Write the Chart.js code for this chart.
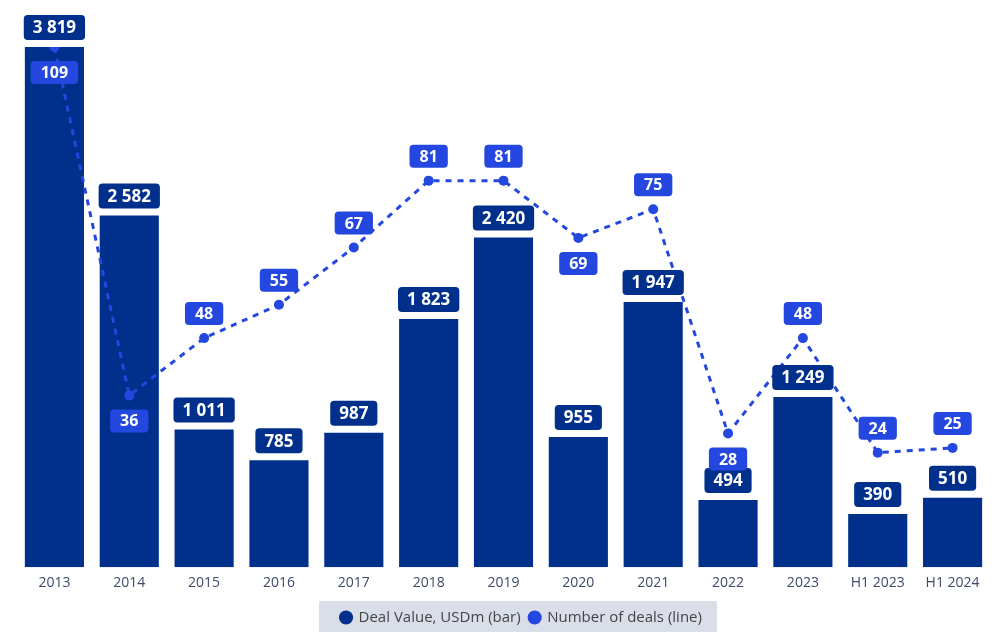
<!DOCTYPE html>
<html>
<head>
<meta charset="utf-8">
<script src="https://cdn.jsdelivr.net/npm/chart.js@4.4.1/dist/chart.umd.min.js"></script>
<style>
  html, body { margin: 0; padding: 0; background: #ffffff; }
  #wrap { width: 1007px; height: 632px; position: relative; }
</style>
</head>
<body>
<div id="wrap"><canvas id="c" width="1007" height="632"></canvas></div>
<script>
const categories = ['2013', '2014', '2015', '2016', '2017', '2018', '2019', '2020', '2021', '2022', '2023', 'H1 2023', 'H1 2024'];
const dealValue = [3819, 2582, 1011, 785, 987, 1823, 2420, 955, 1947, 494, 1249, 390, 510];
const dealCount = [109, 36, 48, 55, 67, 81, 81, 69, 75, 28, 48, 24, 25];
const countLabelSide = ['below', 'below', 'above', 'above', 'above', 'above', 'above', 'below', 'above', 'below', 'above', 'above', 'above'];

const BAR_COLOR = '#00308C';
const LINE_COLOR = '#2447DF';
const FONT = "'Segoe UI', 'Open Sans', 'Noto Sans', sans-serif";
const LEGEND_SHIFT_X = 18;
const LEGEND_SHIFT_Y = 3;

function fmt(v) {
  return String(v).replace(/\B(?=(\d{3})+(?!\d))/g, ' ');
}

function roundRect(ctx, x, y, w, h, r) {
  ctx.beginPath();
  ctx.moveTo(x + r, y);
  ctx.lineTo(x + w - r, y);
  ctx.quadraticCurveTo(x + w, y, x + w, y + r);
  ctx.lineTo(x + w, y + h - r);
  ctx.quadraticCurveTo(x + w, y + h, x + w - r, y + h);
  ctx.lineTo(x + r, y + h);
  ctx.quadraticCurveTo(x, y + h, x, y + h - r);
  ctx.lineTo(x, y + r);
  ctx.quadraticCurveTo(x, y, x + r, y);
  ctx.closePath();
}

const labelPlugin = {
  id: 'valueLabels',
  afterDatasetsDraw(chart) {
    const ctx = chart.ctx;
    ctx.save();
    ctx.font = "bold 17px " + FONT;
    ctx.textAlign = 'center';
    ctx.textBaseline = 'middle';
    const barMeta = chart.getDatasetMeta(0);
    barMeta.data.forEach((el, i) => {
      const txt = fmt(dealValue[i]);
      const tw = ctx.measureText(txt).width;
      const w = tw + 18, h = 25;
      const cx = el.x;
      const bottom = el.y - 7;
      ctx.fillStyle = BAR_COLOR;
      roundRect(ctx, cx - w / 2, bottom - h, w, h, 4);
      ctx.fill();
      ctx.fillStyle = '#ffffff';
      ctx.fillText(txt, cx, bottom - h / 2 + 1);
    });
    ctx.font = "bold 16px " + FONT;
    const lineMeta = chart.getDatasetMeta(1);
    lineMeta.data.forEach((el, i) => {
      const txt = fmt(dealCount[i]);
      const tw = ctx.measureText(txt).width;
      const w = tw + 20, h = 23;
      const cx = el.x;
      let top;
      if (countLabelSide[i] === 'below') top = el.y + 14;
      else top = el.y - 13 - h;
      ctx.fillStyle = LINE_COLOR;
      roundRect(ctx, cx - w / 2, top, w, h, 4);
      ctx.fill();
      ctx.fillStyle = '#ffffff';
      ctx.fillText(txt, cx, top + h / 2 + 1);
    });
    ctx.restore();
  }
};

const legendBgPlugin = {
  id: 'legendBg',
  afterLayout(chart) {
    const lg = chart.legend;
    if (!lg) return;
    lg.left += LEGEND_SHIFT_X; lg.right += LEGEND_SHIFT_X;
    lg.top += LEGEND_SHIFT_Y; lg.bottom += LEGEND_SHIFT_Y;
    if (lg.legendHitBoxes) lg.legendHitBoxes.forEach(b => { b.left += LEGEND_SHIFT_X; b.top += LEGEND_SHIFT_Y; });
  },
  beforeDraw(chart) {
    const lg = chart.legend;
    if (!lg || !lg.legendHitBoxes || !lg.legendHitBoxes.length) return;
    const boxes = lg.legendHitBoxes;
    let minX = Infinity, maxX = -Infinity;
    boxes.forEach(b => { minX = Math.min(minX, b.left); maxX = Math.max(maxX, b.left + b.width); });
    const ctx = chart.ctx;
    ctx.save();
    ctx.fillStyle = '#D9DEE9';
    ctx.fillRect(minX - 22, 601, (maxX - minX) + 37, 31);
    ctx.restore();
  }
};

new Chart(document.getElementById('c'), {
  data: {
    labels: categories,
    datasets: [
      {
        type: 'bar',
        label: 'Deal Value, USDm (bar)',
        data: dealValue,
        backgroundColor: BAR_COLOR,
        borderWidth: 0,
        yAxisID: 'y',
        barPercentage: 0.79,
        categoryPercentage: 1.0,
        order: 2
      },
      {
        type: 'line',
        label: 'Number of deals (line)',
        data: dealCount,
        borderColor: LINE_COLOR,
        backgroundColor: LINE_COLOR,
        borderWidth: 3,
        borderDash: [6, 6],
        pointRadius: 5,
        pointBackgroundColor: LINE_COLOR,
        pointBorderWidth: 0,
        tension: 0,
        yAxisID: 'y2',
        order: 1
      }
    ]
  },
  options: {
    responsive: false,
    animation: false,
    layout: { padding: { top: 47, left: 17, right: 17, bottom: 0 } },
    scales: {
      x: {
        grid: { display: false },
        border: { display: false },
        ticks: { color: '#3E4A6B', font: { size: 14, family: FONT }, padding: -0.5 },
        afterFit(scale) { scale.height += 7; }
      },
      y: { display: false, min: 0, max: 3819 },
      y2: { display: false, min: 0, max: 109 }
    },
    plugins: {
      legend: {
        position: 'bottom',
        labels: {
          usePointStyle: true,
          pointStyle: 'circle',
          boxWidth: 10,
          boxHeight: 10,
          color: '#454545',
          font: { size: 15, family: FONT },
          padding: 9,
          sort: (a, b) => a.datasetIndex - b.datasetIndex
        }
      },
      tooltip: { enabled: false }
    }
  },
  plugins: [labelPlugin, legendBgPlugin]
});
</script>
</body>
</html>
